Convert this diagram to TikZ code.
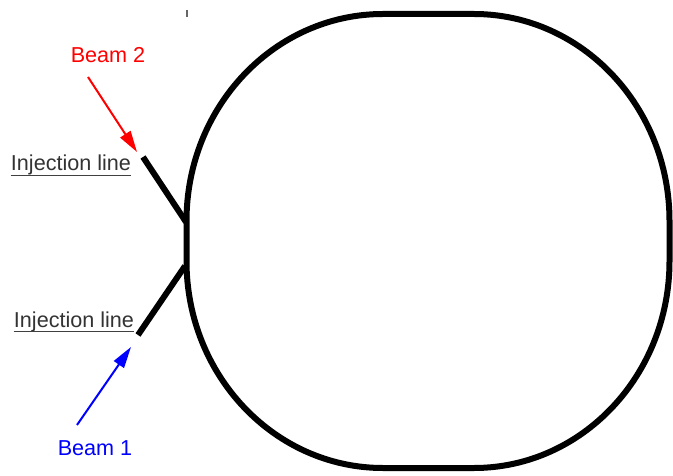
\documentclass[tikz,border=0pt]{standalone}
\usepackage{fontspec}
\setmainfont{Liberation Sans}
\usetikzlibrary{arrows.meta}
\begin{document}
\begin{tikzpicture}[x=0.75pt,y=0.75pt,
  ring/.style={line width=4.5pt,line join=round},
  injline/.style={line width=4.5pt},
  beamarrow/.style={line width=1.5pt,-{Triangle[length=16pt,width=9pt]}},
  lbl/.style={font=\fontsize{16.2}{19}\selectfont,inner sep=0pt,anchor=base},
  injlbl/.style={lbl,text=black!80},
  uline/.style={black!75,line width=1.1pt}]
\useasboundingbox (0,0) rectangle (673,475);
% ring
\draw[ring] (383,461) -- (474,461)
  arc[start angle=90,end angle=0,x radius=195.5,y radius=207] -- (669.5,214)
  arc[start angle=0,end angle=-90,x radius=195.5,y radius=207] -- (474,7)
  -- (383,7)
  arc[start angle=270,end angle=180,x radius=196.5,y radius=207] -- (186.5,254)
  arc[start angle=180,end angle=90,x radius=196.5,y radius=207] -- cycle;
% small tick
\draw[black!60,line width=0.9pt] (187,465) -- (187,458);
% injection lines
\coordinate (inj2in) at (186,253);
\coordinate (inj2out) at (143,318);
\coordinate (inj1in) at (185,209);
\coordinate (inj1out) at (138,140);
\draw[injline] (inj2out) -- (inj2in);
\draw[injline] (inj1out) -- (inj1in);
% labels
\node[injlbl] (il2) at (71,304) {Injection line};
\node[injlbl] (il1) at (74,148) {Injection line};
\draw[uline] ([yshift=-3.3pt]il2.base west) -- ([yshift=-3.3pt]il2.base east);
\draw[uline] ([yshift=-3.3pt]il1.base west) -- ([yshift=-3.3pt]il1.base east);
\node[lbl,text=red] (b2) at (108,412) {Beam 2};
\node[lbl,text=blue] (b1) at (95,20) {Beam 1};
% arrows
\coordinate (b2s) at (88,398);
\coordinate (b2t) at (137,323);
\coordinate (b1s) at (77,50);
\coordinate (b1t) at (131,128);
\draw[beamarrow,red] (b2s) -- (b2t);
\draw[beamarrow,blue] (b1s) -- (b1t);
\end{tikzpicture}
\end{document}
